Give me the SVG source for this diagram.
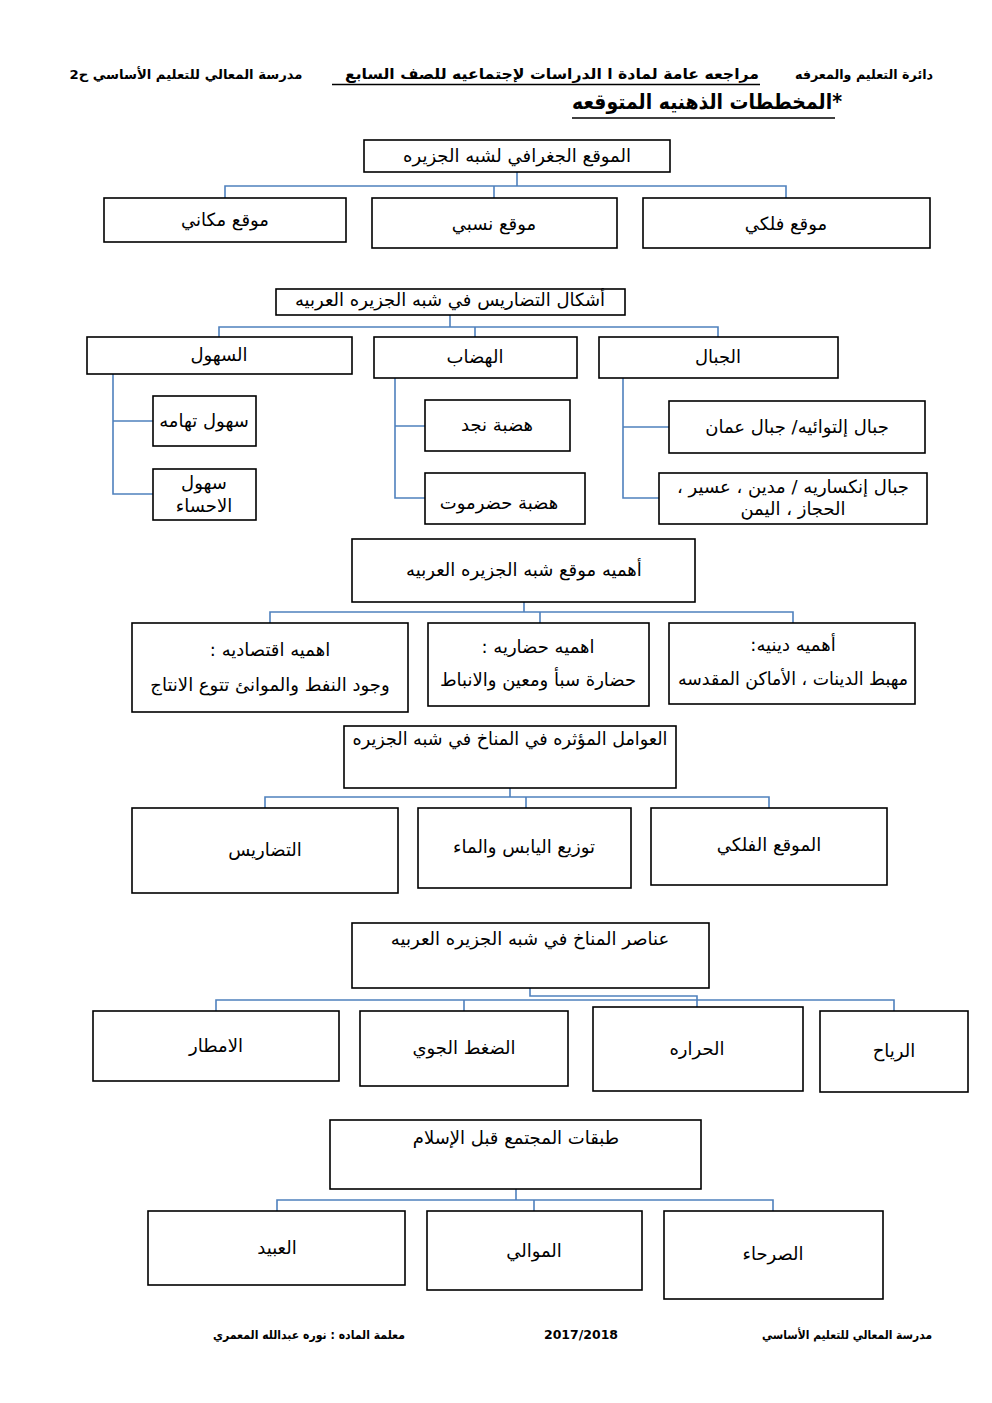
<svg xmlns="http://www.w3.org/2000/svg" width="992" height="1403" viewBox="0 0 992 1403">
<style>
.bg{fill:#ffffff}
.box{fill:#ffffff;stroke:#000000;stroke-width:1.6}
.con{fill:none;stroke:#4F81BD;stroke-width:1.6}
.t{font-family:"DejaVu Sans","Noto Sans",sans-serif;font-size:18px;fill:#000;text-anchor:middle;direction:rtl}
.h{font-family:"DejaVu Sans","Noto Sans",sans-serif;font-weight:bold;fill:#000;text-anchor:middle;direction:rtl}
.ul{stroke:#000;stroke-width:1.6}
</style>
<rect class="bg" x="0" y="0" width="992" height="1403"/>

<g id="header">
<text class="h" x="864" y="79" font-size="13" textLength="138" lengthAdjust="spacingAndGlyphs">دائرة التعليم والمعرفه</text>
<text class="h" x="552" y="79" font-size="15" textLength="414" lengthAdjust="spacingAndGlyphs">مراجعه عامة لمادة ا الدراسات لإجتماعيه للصف السابع</text>
<line class="ul" x1="332" y1="84.5" x2="760" y2="84.5"/>
<text class="h" x="186" y="79" font-size="13" textLength="233" lengthAdjust="spacingAndGlyphs">مدرسة المعالي  للتعليم الأساسي ح2</text>
<text class="h" x="707" y="109" font-size="21" textLength="270" lengthAdjust="spacingAndGlyphs">*المخططات الذهنيه المتوقعه</text>
<line class="ul" x1="572" y1="118" x2="835" y2="118" stroke-width="2"/>
</g>

<g id="connectors">
<path class="con" d="M517 172V186M225 198V186H786V198M494 186V198"/>
<path class="con" d="M450 315V327M219 337V327H718V337M475 327V337"/>
<path class="con" d="M113 374V494H153M113 421H153"/>
<path class="con" d="M395 378V498H425M395 426H425"/>
<path class="con" d="M623 378V498H659M623 427H669"/>
<path class="con" d="M524 602V612M270 623V612H793V623M540 612V623"/>
<path class="con" d="M510 788V797M265 808V797H769V808M526 797V808"/>
<path class="con" d="M530 988V996H697V1007M216 1011V1000H894V1011M464 1000V1011"/>
<path class="con" d="M516 1189V1200M277 1211V1200H773V1211M534 1200V1211"/>
</g>

<g id="n-geo">
<rect class="box" x="364" y="140" width="306" height="32"/>
<text class="t" x="517" y="162">الموقع الجغرافي لشبه الجزيره</text>
</g>
<g id="n-makani">
<rect class="box" x="104" y="198" width="242" height="44"/>
<text class="t" x="225" y="226">موقع مكاني</text>
</g>
<g id="n-nisbi">
<rect class="box" x="372" y="198" width="245" height="50"/>
<text class="t" x="494" y="230">موقع نسبي</text>
</g>
<g id="n-falaki">
<rect class="box" x="643" y="198" width="287" height="50"/>
<text class="t" x="786" y="230">موقع فلكي</text>
</g>

<g id="n-tadaris">
<rect class="box" x="276" y="289" width="349" height="26"/>
<text class="t" x="450" y="306">أشكال التضاريس في شبه الجزيره العربيه</text>
</g>
<g id="n-suhul">
<rect class="box" x="87" y="337" width="265" height="37"/>
<text class="t" x="219" y="361">السهول</text>
</g>
<g id="n-hidab">
<rect class="box" x="374" y="337" width="203" height="41"/>
<text class="t" x="475" y="363">الهضاب</text>
</g>
<g id="n-jibal">
<rect class="box" x="599" y="337" width="239" height="41"/>
<text class="t" x="718" y="363">الجبال</text>
</g>
<g id="n-tihama">
<rect class="box" x="153" y="396" width="103" height="50"/>
<text class="t" x="204" y="427">سهول تهامه</text>
</g>
<g id="n-ahsa">
<rect class="box" x="153" y="469" width="103" height="51"/>
<text class="t" x="204" y="489">سهول</text>
<text class="t" x="204" y="512">الاحساء</text>
</g>
<g id="n-najd">
<rect class="box" x="425" y="400" width="145" height="51"/>
<text class="t" x="497" y="431">هضبة نجد</text>
</g>
<g id="n-hadramout">
<rect class="box" x="425" y="473" width="160" height="51"/>
<text class="t" x="499" y="509">هضبة حضرموت</text>
</g>
<g id="n-oman">
<rect class="box" x="669" y="401" width="256" height="52"/>
<text class="t" x="797" y="433">جبال إلتوائيه/ جبال عمان</text>
</g>
<g id="n-inkisari">
<rect class="box" x="659" y="473" width="268" height="51"/>
<text class="t" x="793" y="493">جبال إنكساريه / مدين ، عسير ،</text>
<text class="t" x="793" y="515">الحجاز ، اليمن</text>
</g>

<g id="n-ahamiya">
<rect class="box" x="352" y="539" width="343" height="63"/>
<text class="t" x="524" y="576">أهميه موقع شبه  الجزيره  العربيه</text>
</g>
<g id="n-iqtisadi">
<rect class="box" x="132" y="623" width="276" height="89"/>
<text class="t" x="270" y="656">اهميه اقتصاديه :</text>
<text class="t" x="270" y="691">وجود النفط والموانئ تتوع الانتاج</text>
</g>
<g id="n-hadari">
<rect class="box" x="428" y="623" width="221" height="83"/>
<text class="t" x="538" y="653">اهميه حضاريه :</text>
<text class="t" x="538" y="686">حضارة سبأ ومعين والانباط</text>
</g>
<g id="n-dini">
<rect class="box" x="669" y="623" width="246" height="81"/>
<text class="t" x="793" y="651">أهميه دينيه:</text>
<text class="t" x="793" y="685" textLength="230" lengthAdjust="spacingAndGlyphs">مهبط الدينات ، الأماكن المقدسه</text>
</g>

<g id="n-awamil">
<rect class="box" x="344" y="726" width="332" height="62"/>
<text class="t" x="510" y="745" textLength="315" lengthAdjust="spacingAndGlyphs">العوامل المؤثره في المناخ في شبه الجزيره</text>
</g>
<g id="n-tadaris2">
<rect class="box" x="132" y="808" width="266" height="85"/>
<text class="t" x="265" y="856">التضاريس</text>
</g>
<g id="n-yabis">
<rect class="box" x="418" y="808" width="213" height="80"/>
<text class="t" x="524" y="853">توزيع اليابس والماء</text>
</g>
<g id="n-falaki2">
<rect class="box" x="651" y="808" width="236" height="77"/>
<text class="t" x="769" y="851">الموقع الفلكي</text>
</g>

<g id="n-anasir">
<rect class="box" x="352" y="923" width="357" height="65"/>
<text class="t" x="530" y="945">عناصر المناخ في شبه الجزيره العربيه</text>
</g>
<g id="n-amtar">
<rect class="box" x="93" y="1011" width="246" height="70"/>
<text class="t" x="216" y="1052">الامطار</text>
</g>
<g id="n-daght">
<rect class="box" x="360" y="1011" width="208" height="75"/>
<text class="t" x="464" y="1054">الضغط الجوي</text>
</g>
<g id="n-harara">
<rect class="box" x="593" y="1007" width="210" height="84"/>
<text class="t" x="697" y="1055">الحراره</text>
</g>
<g id="n-riyah">
<rect class="box" x="820" y="1011" width="148" height="81"/>
<text class="t" x="894" y="1057">الرياح</text>
</g>

<g id="n-tabaqat">
<rect class="box" x="330" y="1120" width="371" height="69"/>
<text class="t" x="516" y="1144">طبقات المجتمع قبل الإسلام</text>
</g>
<g id="n-abid">
<rect class="box" x="148" y="1211" width="257" height="74"/>
<text class="t" x="277" y="1254">العبيد</text>
</g>
<g id="n-mawali">
<rect class="box" x="427" y="1211" width="215" height="79"/>
<text class="t" x="534" y="1257">الموالي</text>
</g>
<g id="n-surahaa">
<rect class="box" x="664" y="1211" width="219" height="88"/>
<text class="t" x="773" y="1260">الصرحاء</text>
</g>

<g id="footer">
<text class="h" x="847" y="1339" font-size="12" textLength="170" lengthAdjust="spacingAndGlyphs">مدرسة المعالي للتعليم الأساسي</text>
<text class="h" x="581" y="1339" font-size="13" textLength="74" lengthAdjust="spacingAndGlyphs" style="direction:ltr">2017/2018</text>
<text class="h" x="309" y="1339" font-size="12" textLength="192" lengthAdjust="spacingAndGlyphs">معلمة الماده : نوره عبدالله المعمري</text>
</g>
</svg>
